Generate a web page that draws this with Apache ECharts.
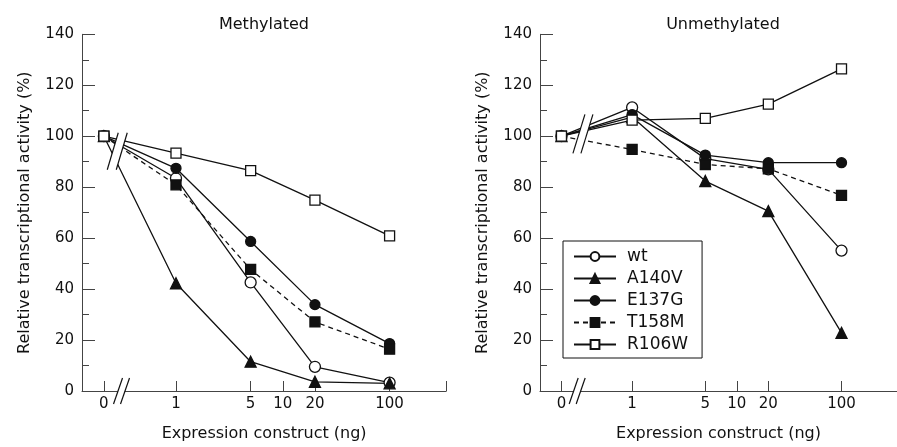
<!DOCTYPE html>
<html>
<head>
<meta charset="utf-8">
<script src="https://cdn.jsdelivr.net/npm/echarts@6/dist/echarts.min.js"></script>
<style>
  html, body { margin: 0; padding: 0; background: #fff; }
  #main { width: 897px; height: 447px; }
</style>
</head>
<body>
<div id="main"></div>
<script>
// doses used for the points (ng), 0 is drawn left of the axis break
var doses = [0, 1, 5, 20, 100]
var tickDoses = [0, 1, 5, 10, 20, 100]
var tickLabels = ['0', '1', '5', '10', '20', '100']
var seriesNames = ['wt', 'A140V', 'E137G', 'T158M', 'R106W']

// Methylated
var methWt = [100, 83.5, 42.6, 9.5, 3.3]
var methA140V = [100, 42.3, 11.5, 3.6, 3.0]
var methE137G = [100, 87.4, 58.7, 33.9, 18.6]
var methT158M = [100, 80.9, 47.7, 27.1, 16.4]
var methR106W = [100, 93.4, 86.5, 74.9, 60.9]

// Unmethylated
var unWt = [100, 111.3, 91.2, 87.0, 55.1]
var unA140V = [100, 107.5, 82.4, 70.6, 22.8]
var unE137G = [100, 108.5, 92.6, 89.6, 89.6]
var unT158M = [100, 94.8, 88.9, 87.2, 76.8]
var unR106W = [100, 106.3, 107.0, 112.6, 126.4]

var ZERO_POS = -0.675   // where the 0 dose sits on the log axis
var X_MIN = -0.88
var X_MAX = 2.53

function pos(d) {
  return d === 0 ? ZERO_POS : Math.log10(d)
}
var tickPos = tickDoses.map(pos)

var FONT = 'DejaVu Sans'
var INK = '#111'

// symbol look of each series
var styles = {
  wt:    { symbol: 'circle',   fill: '#fff', size: 11, dash: 'solid' },
  A140V: { symbol: 'triangle', fill: INK,    size: 11, dash: 'solid' },
  E137G: { symbol: 'circle',   fill: INK,    size: 10, dash: 'solid' },
  T158M: { symbol: 'rect',     fill: INK,    size: 10, dash: [5, 4] },
  R106W: { symbol: 'rect',     fill: '#fff', size: 10, dash: 'solid' }
}

function lineSeries(name, values, idx) {
  var s = styles[name]
  return {
    name: name,
    type: 'line',
    xAxisIndex: idx,
    yAxisIndex: idx,
    data: values.map(function (v, i) { return [pos(doses[i]), v] }),
    symbol: s.symbol,
    symbolSize: s.size,
    showAllSymbol: true,
    lineStyle: { color: INK, width: 1.3, type: s.dash },
    itemStyle: { color: s.fill, borderColor: INK, borderWidth: 1.3 },
    emphasis: { disabled: true },
    animation: false,
    z: 2
  }
}

// break marks "//" drawn in axis coordinates
function breakSeries(idx, data, h, dx, gap) {
  return {
    type: 'custom',
    xAxisIndex: idx,
    yAxisIndex: idx,
    clip: false,
    silent: true,
    z: 5,
    animation: false,
    data: data,
    renderItem: function (params, api) {
      var c = api.coord([api.value(0), api.value(1)])
      var x0 = c[0] - gap / 2, x1 = c[0] + gap / 2
      var top = c[1] - h / 2, bot = c[1] + h / 2
      return {
        type: 'group',
        children: [
          { type: 'polygon', shape: { points: [[x0 + dx, top], [x1 + dx, top], [x1 - dx, bot], [x0 - dx, bot]] },
            style: { fill: '#fff' } },
          { type: 'line', shape: { x1: x0 + dx, y1: top, x2: x0 - dx, y2: bot }, style: { stroke: INK, lineWidth: 1.2 } },
          { type: 'line', shape: { x1: x1 + dx, y1: top, x2: x1 - dx, y2: bot }, style: { stroke: INK, lineWidth: 1.2 } }
        ]
      }
    }
  }
}

function xAxis(idx, endTick) {
  var ticks = tickPos.slice()
  if (endTick) ticks.push(X_MAX)
  return {
    type: 'value',
    gridIndex: idx,
    min: X_MIN,
    max: X_MAX,
    name: 'Expression construct (ng)',
    nameLocation: 'middle',
    nameGap: 35,
    nameTextStyle: { fontFamily: FONT, fontSize: 16, color: INK },
    axisLine: { show: true, onZero: false, lineStyle: { color: '#444', width: 1 } },
    axisTick: { show: true, inside: true, length: 10, customValues: ticks, lineStyle: { color: '#444' } },
    axisLabel: {
      customValues: tickPos,
      margin: 6,
      fontFamily: FONT, fontSize: 15, color: INK,
      formatter: function (v) {
        for (var i = 0; i < tickPos.length; i++) {
          if (Math.abs(tickPos[i] - v) < 1e-6) return tickLabels[i]
        }
        return ''
      }
    },
    splitLine: { show: false }
  }
}

function yAxis(idx) {
  return {
    type: 'value',
    gridIndex: idx,
    min: 0,
    max: 140,
    interval: 20,
    name: 'Relative transcriptional activity (%)',
    nameLocation: 'middle',
    nameGap: 49,
    nameTextStyle: { fontFamily: FONT, fontSize: 16, color: INK },
    axisLine: { show: true, onZero: false, lineStyle: { color: '#444', width: 1 } },
    axisTick: { show: true, inside: true, length: 13, lineStyle: { color: '#444' } },
    minorTick: { show: true, splitNumber: 2, length: 7, lineStyle: { color: '#444' } },
    axisLabel: { fontFamily: FONT, fontSize: 15, color: INK, margin: 8 },
    splitLine: { show: false },
    minorSplitLine: { show: false }
  }
}

var methSets = [methWt, methA140V, methE137G, methT158M, methR106W]
var unSets = [unWt, unA140V, unE137G, unT158M, unR106W]

var series = []
seriesNames.forEach(function (n, i) { series.push(lineSeries(n, methSets[i], 0)) })
seriesNames.forEach(function (n, i) { series.push(lineSeries(n, unSets[i], 1)) })
series.push(breakSeries(0, [[-0.55, 94.1]], 37, 5.5, 9))
series.push(breakSeries(0, [[-0.51, 0]], 26, 4.5, 7))
series.push(breakSeries(1, [[-0.47, 100.9]], 39, 6, 8))
series.push(breakSeries(1, [[-0.525, 0]], 26, 4.5, 7))

var chart = echarts.init(document.getElementById('main'), null, { renderer: 'canvas' })
chart.setOption({
  backgroundColor: '#fff',
  animation: false,
  title: [
    { text: 'Methylated', left: 259, top: 12, textAlign: 'center',
      textStyle: { fontFamily: FONT, fontSize: 16, fontWeight: 'normal', color: INK } },
    { text: 'Unmethylated', left: 718, top: 12, textAlign: 'center',
      textStyle: { fontFamily: FONT, fontSize: 16, fontWeight: 'normal', color: INK } }
  ],
  grid: [
    { left: 82, top: 34.3, width: 364.2, height: 358.4 },
    { left: 540, top: 34.3, width: 364.2, height: 358.4 }
  ],
  xAxis: [xAxis(0, true), xAxis(1, false)],
  yAxis: [yAxis(0), yAxis(1)],
  legend: {
    data: seriesNames,
    orient: 'vertical',
    left: 563,
    top: 241,
    width: 139,
    padding: [7, 14, 5, 10],
    itemWidth: 42,
    itemHeight: 11,
    itemGap: 5,
    borderColor: INK,
    borderWidth: 1,
    selectedMode: false,
    textStyle: { fontFamily: FONT, fontSize: 17, color: INK, padding: [0, 0, 0, 6] }
  },
  series: series
})
</script>
</body>
</html>
